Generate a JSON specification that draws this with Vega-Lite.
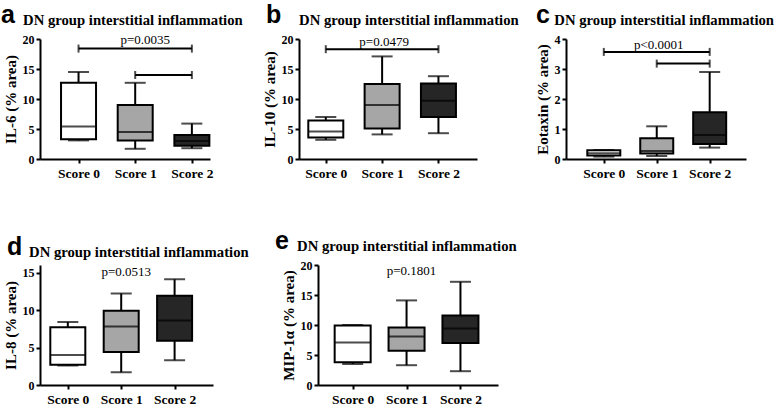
{
  "$schema": "https://vega.github.io/schema/vega-lite/v6.json",
  "padding": {"left": 1, "top": 3, "right": 5, "bottom": 2},
  "datasets": {
    "boxes": [
      {"panel": "a", "score": "Score 0", "min": 3.1, "q1": 3.3, "median": 5.4, "q3": 12.7, "max": 14.5},
      {"panel": "a", "score": "Score 1", "min": 1.7, "q1": 3.1, "median": 4.5, "q3": 9.0, "max": 12.7},
      {"panel": "a", "score": "Score 2", "min": 1.8, "q1": 2.2, "median": 3.0, "q3": 4.0, "max": 5.9},
      {"panel": "b", "score": "Score 0", "min": 3.2, "q1": 3.6, "median": 4.6, "q3": 6.4, "max": 7.0},
      {"panel": "b", "score": "Score 1", "min": 4.1, "q1": 5.1, "median": 9.0, "q3": 12.5, "max": 17.1},
      {"panel": "b", "score": "Score 2", "min": 4.3, "q1": 7.0, "median": 9.7, "q3": 12.6, "max": 13.8},
      {"panel": "c", "score": "Score 0", "min": 0.08, "q1": 0.12, "median": 0.19, "q3": 0.29, "max": 0.3},
      {"panel": "c", "score": "Score 1", "min": 0.1, "q1": 0.18, "median": 0.27, "q3": 0.69, "max": 1.09},
      {"panel": "c", "score": "Score 2", "min": 0.38, "q1": 0.5, "median": 0.8, "q3": 1.56, "max": 2.9},
      {"panel": "d", "score": "Score 0", "min": 2.6, "q1": 2.7, "median": 4.0, "q3": 7.7, "max": 8.4},
      {"panel": "d", "score": "Score 1", "min": 1.7, "q1": 4.4, "median": 7.8, "q3": 9.9, "max": 12.2},
      {"panel": "d", "score": "Score 2", "min": 3.3, "q1": 5.9, "median": 8.6, "q3": 11.9, "max": 14.1},
      {"panel": "e", "score": "Score 0", "min": 3.5, "q1": 3.8, "median": 7.1, "q3": 9.9, "max": 10.0},
      {"panel": "e", "score": "Score 1", "min": 3.3, "q1": 5.7, "median": 8.1, "q3": 9.6, "max": 14.1},
      {"panel": "e", "score": "Score 2", "min": 2.3, "q1": 7.0, "median": 9.4, "q3": 11.6, "max": 17.2}
    ],
    "sig": [
      {"panel": "a", "from": "Score 0", "to": "Score 2", "y": 18.4},
      {"panel": "a", "from": "Score 1", "to": "Score 2", "y": 14.0},
      {"panel": "b", "from": "Score 0", "to": "Score 2", "y": 18.3},
      {"panel": "c", "from": "Score 0", "to": "Score 2", "y": 3.57},
      {"panel": "c", "from": "Score 1", "to": "Score 2", "y": 3.18}
    ],
    "ptext": [
      {"panel": "a", "x": "Score 1", "y": 19.2, "label": "p=0.0035"},
      {"panel": "b", "x": "Score 1", "y": 18.8, "label": "p=0.0479"},
      {"panel": "c", "x": "Score 1", "y": 3.68, "label": "p<0.0001"},
      {"panel": "d", "x": "Score 1", "y": 14.6, "label": "p=0.0513"},
      {"panel": "e", "x": "Score 1", "y": 18.3, "label": "p=0.1801"}
    ]
  },
  "vconcat": [
    {
      "hconcat": [
        {
          "width": 170, "height": 120,
          "title": {"text": "a", "subtitle": "\u200b\u00a0\u00a0\u00a0\u00a0\u00a0\u00a0DN group interstitial inflammation", "dx": -39},
          "layer": [
            {
              "data": {"name": "boxes"},
              "transform": [{"filter": "datum.panel === 'a'"}],
              "encoding": {"x": {"field": "score", "type": "nominal", "scale": {"type": "point", "domain": ["Score 0", "Score 1", "Score 2"], "padding": 0.5, "align": 0.68}, "axis": {"title": null}}},
              "layer": [
                {"mark": {"type": "rule", "color": "black", "strokeWidth": 2}, "encoding": {"y": {"field": "min", "type": "quantitative", "scale": {"domain": [0, 20]}, "axis": {"title": "IL-6 (% area)", "values": [0, 5, 10, 15, 20]}}, "y2": {"field": "max"}}},
                {"mark": {"type": "bar", "size": 35, "stroke": "black", "strokeWidth": 2}, "encoding": {"y": {"field": "q1", "type": "quantitative", "axis": {"title": "IL-6 (% area)", "values": [0, 5, 10, 15, 20]}}, "y2": {"field": "q3"}, "fill": {"field": "score", "type": "nominal", "scale": {"domain": ["Score 0", "Score 1", "Score 2"], "range": ["#ffffff", "#a6a6a6", "#262626"]}, "legend": null}}},
                {"mark": {"type": "tick", "size": 35, "thickness": 2, "color": "black"}, "encoding": {"y": {"field": "median", "type": "quantitative", "axis": {"title": "IL-6 (% area)", "values": [0, 5, 10, 15, 20]}}}},
                {"mark": {"type": "tick", "size": 21, "thickness": 2, "color": "black"}, "encoding": {"y": {"field": "min", "type": "quantitative", "axis": {"title": "IL-6 (% area)", "values": [0, 5, 10, 15, 20]}}}},
                {"mark": {"type": "tick", "size": 21, "thickness": 2, "color": "black"}, "encoding": {"y": {"field": "max", "type": "quantitative", "axis": {"title": "IL-6 (% area)", "values": [0, 5, 10, 15, 20]}}}}
              ]
            },
            {
              "data": {"name": "sig"},
              "transform": [{"filter": "datum.panel === 'a'"}],
              "layer": [
                {"mark": {"type": "rule", "color": "black", "strokeWidth": 2}, "encoding": {"x": {"field": "from", "type": "nominal", "axis": {"title": null}}, "x2": {"field": "to"}, "y": {"field": "y", "type": "quantitative", "axis": {"title": "IL-6 (% area)", "values": [0, 5, 10, 15, 20]}}}},
                {"mark": {"type": "tick", "orient": "vertical", "size": 8, "thickness": 2, "color": "black"}, "encoding": {"x": {"field": "from", "type": "nominal", "axis": {"title": null}}, "y": {"field": "y", "type": "quantitative", "axis": {"title": "IL-6 (% area)", "values": [0, 5, 10, 15, 20]}}}},
                {"mark": {"type": "tick", "orient": "vertical", "size": 8, "thickness": 2, "color": "black"}, "encoding": {"x": {"field": "to", "type": "nominal", "axis": {"title": null}}, "y": {"field": "y", "type": "quantitative", "axis": {"title": "IL-6 (% area)", "values": [0, 5, 10, 15, 20]}}}}
              ]
            },
            {
              "data": {"name": "ptext"},
              "transform": [{"filter": "datum.panel === 'a'"}],
              "mark": {"type": "text", "font": "Liberation Serif", "fontSize": 13, "baseline": "alphabetic", "dx": 10, "color": "black"},
              "encoding": {"x": {"field": "x", "type": "nominal", "axis": {"title": null}}, "y": {"field": "y", "type": "quantitative", "axis": {"title": "IL-6 (% area)", "values": [0, 5, 10, 15, 20]}}, "text": {"field": "label"}}
            }
          ]
        },
        {
          "width": 178, "height": 120,
          "title": {"text": "b", "subtitle": "\u200b\u00a0\u00a0\u00a0\u00a0\u00a0\u00a0\u00a0\u00a0\u00a0DN group interstitial inflammation", "dx": -33},
          "layer": [
            {
              "data": {"name": "boxes"},
              "transform": [{"filter": "datum.panel === 'b'"}],
              "encoding": {"x": {"field": "score", "type": "nominal", "scale": {"type": "point", "domain": ["Score 0", "Score 1", "Score 2"], "padding": 0.58, "align": 0.41}, "axis": {"title": null}}},
              "layer": [
                {"mark": {"type": "rule", "color": "black", "strokeWidth": 2}, "encoding": {"y": {"field": "min", "type": "quantitative", "scale": {"domain": [0, 20]}, "axis": {"title": "IL-10 (% area)", "values": [0, 5, 10, 15, 20]}}, "y2": {"field": "max"}}},
                {"mark": {"type": "bar", "size": 35, "stroke": "black", "strokeWidth": 2}, "encoding": {"y": {"field": "q1", "type": "quantitative", "axis": {"title": "IL-10 (% area)", "values": [0, 5, 10, 15, 20]}}, "y2": {"field": "q3"}, "fill": {"field": "score", "type": "nominal", "scale": {"domain": ["Score 0", "Score 1", "Score 2"], "range": ["#ffffff", "#a6a6a6", "#262626"]}, "legend": null}}},
                {"mark": {"type": "tick", "size": 35, "thickness": 2, "color": "black"}, "encoding": {"y": {"field": "median", "type": "quantitative", "axis": {"title": "IL-10 (% area)", "values": [0, 5, 10, 15, 20]}}}},
                {"mark": {"type": "tick", "size": 21, "thickness": 2, "color": "black"}, "encoding": {"y": {"field": "min", "type": "quantitative", "axis": {"title": "IL-10 (% area)", "values": [0, 5, 10, 15, 20]}}}},
                {"mark": {"type": "tick", "size": 21, "thickness": 2, "color": "black"}, "encoding": {"y": {"field": "max", "type": "quantitative", "axis": {"title": "IL-10 (% area)", "values": [0, 5, 10, 15, 20]}}}}
              ]
            },
            {
              "data": {"name": "sig"},
              "transform": [{"filter": "datum.panel === 'b'"}],
              "layer": [
                {"mark": {"type": "rule", "color": "black", "strokeWidth": 2}, "encoding": {"x": {"field": "from", "type": "nominal", "axis": {"title": null}}, "x2": {"field": "to"}, "y": {"field": "y", "type": "quantitative", "axis": {"title": "IL-10 (% area)", "values": [0, 5, 10, 15, 20]}}}},
                {"mark": {"type": "tick", "orient": "vertical", "size": 8, "thickness": 2, "color": "black"}, "encoding": {"x": {"field": "from", "type": "nominal", "axis": {"title": null}}, "y": {"field": "y", "type": "quantitative", "axis": {"title": "IL-10 (% area)", "values": [0, 5, 10, 15, 20]}}}},
                {"mark": {"type": "tick", "orient": "vertical", "size": 8, "thickness": 2, "color": "black"}, "encoding": {"x": {"field": "to", "type": "nominal", "axis": {"title": null}}, "y": {"field": "y", "type": "quantitative", "axis": {"title": "IL-10 (% area)", "values": [0, 5, 10, 15, 20]}}}}
              ]
            },
            {
              "data": {"name": "ptext"},
              "transform": [{"filter": "datum.panel === 'b'"}],
              "mark": {"type": "text", "font": "Liberation Serif", "fontSize": 13, "baseline": "alphabetic", "dx": 2, "color": "black"},
              "encoding": {"x": {"field": "x", "type": "nominal", "axis": {"title": null}}, "y": {"field": "y", "type": "quantitative", "axis": {"title": "IL-10 (% area)", "values": [0, 5, 10, 15, 20]}}, "text": {"field": "label"}}
            }
          ]
        },
        {
          "width": 180, "height": 120,
          "title": {"text": "c", "subtitle": "\u200b\u00a0\u00a0\u00a0\u00a0\u00a0DN group interstitial inflammation", "dx": -30},
          "layer": [
            {
              "data": {"name": "boxes"},
              "transform": [{"filter": "datum.panel === 'c'"}],
              "encoding": {"x": {"field": "score", "type": "nominal", "scale": {"type": "point", "domain": ["Score 0", "Score 1", "Score 2"], "padding": 0.7, "align": 0.51}, "axis": {"title": null}}},
              "layer": [
                {"mark": {"type": "rule", "color": "black", "strokeWidth": 2}, "encoding": {"y": {"field": "min", "type": "quantitative", "scale": {"domain": [0, 4]}, "axis": {"title": "Eotaxin (% area)", "values": [0, 1, 2, 3, 4]}}, "y2": {"field": "max"}}},
                {"mark": {"type": "bar", "size": 33, "stroke": "black", "strokeWidth": 2}, "encoding": {"y": {"field": "q1", "type": "quantitative", "axis": {"title": "Eotaxin (% area)", "values": [0, 1, 2, 3, 4]}}, "y2": {"field": "q3"}, "fill": {"field": "score", "type": "nominal", "scale": {"domain": ["Score 0", "Score 1", "Score 2"], "range": ["#ffffff", "#a6a6a6", "#262626"]}, "legend": null}}},
                {"mark": {"type": "tick", "size": 33, "thickness": 2, "color": "black"}, "encoding": {"y": {"field": "median", "type": "quantitative", "axis": {"title": "Eotaxin (% area)", "values": [0, 1, 2, 3, 4]}}}},
                {"mark": {"type": "tick", "size": 21, "thickness": 2, "color": "black"}, "encoding": {"y": {"field": "min", "type": "quantitative", "axis": {"title": "Eotaxin (% area)", "values": [0, 1, 2, 3, 4]}}}},
                {"mark": {"type": "tick", "size": 21, "thickness": 2, "color": "black"}, "encoding": {"y": {"field": "max", "type": "quantitative", "axis": {"title": "Eotaxin (% area)", "values": [0, 1, 2, 3, 4]}}}}
              ]
            },
            {
              "data": {"name": "sig"},
              "transform": [{"filter": "datum.panel === 'c'"}],
              "layer": [
                {"mark": {"type": "rule", "color": "black", "strokeWidth": 2}, "encoding": {"x": {"field": "from", "type": "nominal", "axis": {"title": null}}, "x2": {"field": "to"}, "y": {"field": "y", "type": "quantitative", "axis": {"title": "Eotaxin (% area)", "values": [0, 1, 2, 3, 4]}}}},
                {"mark": {"type": "tick", "orient": "vertical", "size": 8, "thickness": 2, "color": "black"}, "encoding": {"x": {"field": "from", "type": "nominal", "axis": {"title": null}}, "y": {"field": "y", "type": "quantitative", "axis": {"title": "Eotaxin (% area)", "values": [0, 1, 2, 3, 4]}}}},
                {"mark": {"type": "tick", "orient": "vertical", "size": 8, "thickness": 2, "color": "black"}, "encoding": {"x": {"field": "to", "type": "nominal", "axis": {"title": null}}, "y": {"field": "y", "type": "quantitative", "axis": {"title": "Eotaxin (% area)", "values": [0, 1, 2, 3, 4]}}}}
              ]
            },
            {
              "data": {"name": "ptext"},
              "transform": [{"filter": "datum.panel === 'c'"}],
              "mark": {"type": "text", "font": "Liberation Serif", "fontSize": 13, "baseline": "alphabetic", "dx": 2, "color": "black"},
              "encoding": {"x": {"field": "x", "type": "nominal", "axis": {"title": null}}, "y": {"field": "y", "type": "quantitative", "axis": {"title": "Eotaxin (% area)", "values": [0, 1, 2, 3, 4]}}, "text": {"field": "label"}}
            }
          ]
        }
      ],
      "spacing": 89,
      "bounds": "flush"
    },
    {
      "hconcat": [
        {
          "width": 173, "height": 120,
          "title": {"text": "d", "subtitle": "\u200b\u00a0\u00a0\u00a0\u00a0\u00a0\u00a0DN group interstitial inflammation", "dx": -33},
          "layer": [
            {
              "data": {"name": "boxes"},
              "transform": [{"filter": "datum.panel === 'd'"}],
              "encoding": {"x": {"field": "score", "type": "nominal", "scale": {"type": "point", "domain": ["Score 0", "Score 1", "Score 2"], "padding": 0.62, "align": 0.42}, "axis": {"title": null}}},
              "layer": [
                {"mark": {"type": "rule", "color": "black", "strokeWidth": 2}, "encoding": {"y": {"field": "min", "type": "quantitative", "scale": {"domain": [0, 15]}, "axis": {"title": "IL-8 (% area)", "values": [0, 5, 10, 15]}}, "y2": {"field": "max"}}},
                {"mark": {"type": "bar", "size": 35, "stroke": "black", "strokeWidth": 2}, "encoding": {"y": {"field": "q1", "type": "quantitative", "axis": {"title": "IL-8 (% area)", "values": [0, 5, 10, 15]}}, "y2": {"field": "q3"}, "fill": {"field": "score", "type": "nominal", "scale": {"domain": ["Score 0", "Score 1", "Score 2"], "range": ["#ffffff", "#a6a6a6", "#262626"]}, "legend": null}}},
                {"mark": {"type": "tick", "size": 35, "thickness": 2, "color": "black"}, "encoding": {"y": {"field": "median", "type": "quantitative", "axis": {"title": "IL-8 (% area)", "values": [0, 5, 10, 15]}}}},
                {"mark": {"type": "tick", "size": 21, "thickness": 2, "color": "black"}, "encoding": {"y": {"field": "min", "type": "quantitative", "axis": {"title": "IL-8 (% area)", "values": [0, 5, 10, 15]}}}},
                {"mark": {"type": "tick", "size": 21, "thickness": 2, "color": "black"}, "encoding": {"y": {"field": "max", "type": "quantitative", "axis": {"title": "IL-8 (% area)", "values": [0, 5, 10, 15]}}}}
              ]
            },
            {
              "data": {"name": "ptext"},
              "transform": [{"filter": "datum.panel === 'd'"}],
              "mark": {"type": "text", "font": "Liberation Serif", "fontSize": 13, "baseline": "alphabetic", "dx": 5, "color": "black"},
              "encoding": {"x": {"field": "x", "type": "nominal", "axis": {"title": null}}, "y": {"field": "y", "type": "quantitative", "axis": {"title": "IL-8 (% area)", "values": [0, 5, 10, 15]}}, "text": {"field": "label"}}
            }
          ]
        },
        {
          "width": 180, "height": 120,
          "title": {"text": "e", "subtitle": "\u200b\u00a0\u00a0\u00a0\u00a0\u00a0\u00a0DN group interstitial inflammation", "dx": -43},
          "layer": [
            {
              "data": {"name": "boxes"},
              "transform": [{"filter": "datum.panel === 'e'"}],
              "encoding": {"x": {"field": "score", "type": "nominal", "scale": {"type": "point", "domain": ["Score 0", "Score 1", "Score 2"], "padding": 0.67, "align": 0.48}, "axis": {"title": null}}},
              "layer": [
                {"mark": {"type": "rule", "color": "black", "strokeWidth": 2}, "encoding": {"y": {"field": "min", "type": "quantitative", "scale": {"domain": [0, 20]}, "axis": {"title": "MIP-1α (% area)", "values": [0, 5, 10, 15, 20]}}, "y2": {"field": "max"}}},
                {"mark": {"type": "bar", "size": 36, "stroke": "black", "strokeWidth": 2}, "encoding": {"y": {"field": "q1", "type": "quantitative", "axis": {"title": "MIP-1α (% area)", "values": [0, 5, 10, 15, 20]}}, "y2": {"field": "q3"}, "fill": {"field": "score", "type": "nominal", "scale": {"domain": ["Score 0", "Score 1", "Score 2"], "range": ["#ffffff", "#a6a6a6", "#262626"]}, "legend": null}}},
                {"mark": {"type": "tick", "size": 36, "thickness": 2, "color": "black"}, "encoding": {"y": {"field": "median", "type": "quantitative", "axis": {"title": "MIP-1α (% area)", "values": [0, 5, 10, 15, 20]}}}},
                {"mark": {"type": "tick", "size": 21, "thickness": 2, "color": "black"}, "encoding": {"y": {"field": "min", "type": "quantitative", "axis": {"title": "MIP-1α (% area)", "values": [0, 5, 10, 15, 20]}}}},
                {"mark": {"type": "tick", "size": 21, "thickness": 2, "color": "black"}, "encoding": {"y": {"field": "max", "type": "quantitative", "axis": {"title": "MIP-1α (% area)", "values": [0, 5, 10, 15, 20]}}}}
              ]
            },
            {
              "data": {"name": "ptext"},
              "transform": [{"filter": "datum.panel === 'e'"}],
              "mark": {"type": "text", "font": "Liberation Serif", "fontSize": 13, "baseline": "alphabetic", "dx": 5, "color": "black"},
              "encoding": {"x": {"field": "x", "type": "nominal", "axis": {"title": null}}, "y": {"field": "y", "type": "quantitative", "axis": {"title": "MIP-1α (% area)", "values": [0, 5, 10, 15, 20]}}, "text": {"field": "label"}}
            }
          ]
        }
      ],
      "spacing": 105,
      "bounds": "flush"
    }
  ],
  "spacing": 49,
  "config": {
    "view": {"stroke": null},
    "axis": {"domainColor": "black", "domainWidth": 2, "tickColor": "black", "tickWidth": 2, "tickSize": 4, "labelColor": "black", "labelFont": "Liberation Serif", "labelFontWeight": "bold", "labelFontSize": 12, "titleFont": "Liberation Serif", "titleFontWeight": "bold", "titleFontSize": 15, "titleColor": "black", "grid": false},
    "axisX": {"labelAngle": 0, "labelFontSize": 13.5, "labelPadding": 3},
    "axisY": {"labelPadding": 2, "titlePadding": 4},
    "title": {"anchor": "start", "frame": "group", "font": "Liberation Sans", "fontSize": 25, "fontWeight": "bold", "color": "black", "subtitleFont": "Liberation Serif", "subtitleFontSize": 14.7, "subtitleFontWeight": "bold", "subtitleColor": "black", "baseline": "alphabetic", "offset": 5, "subtitlePadding": -15.5}
  }
}
